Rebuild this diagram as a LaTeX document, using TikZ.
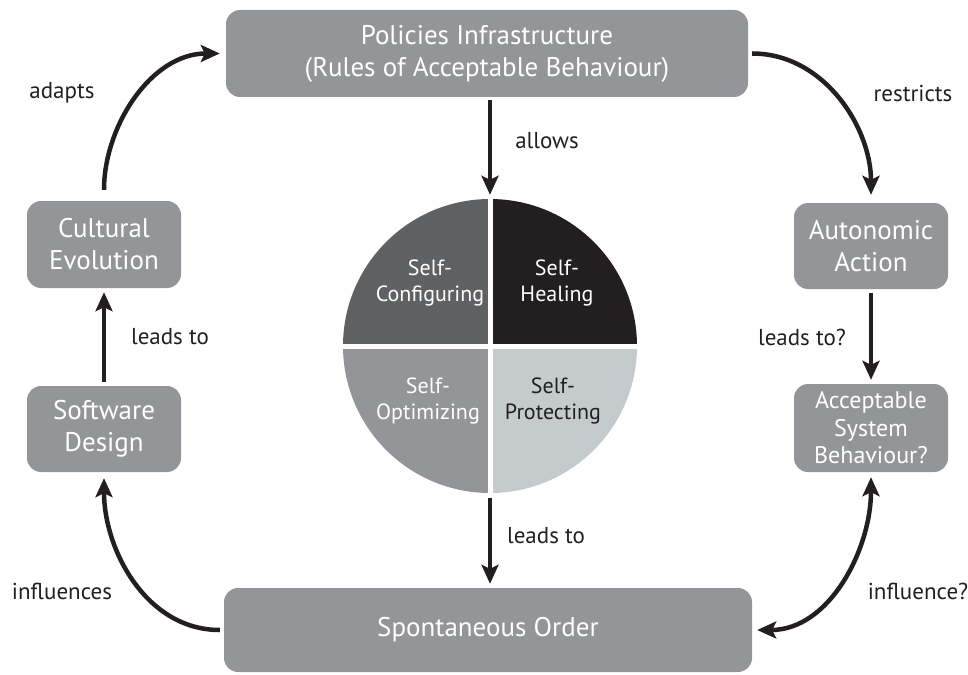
\documentclass[tikz,border=0pt]{standalone}
\usepackage{fontspec}
\setmainfont{PT Sans}
\usetikzlibrary{arrows.meta}
\definecolor{boxgray}{HTML}{939598}
\definecolor{qtl}{HTML}{606163}
\definecolor{qtr}{HTML}{231F20}
\definecolor{qbl}{HTML}{939598}
\definecolor{qbr}{HTML}{C5CBCC}
\definecolor{ink}{HTML}{231F20}
\tikzset{
  box/.style={rectangle, rounded corners=14pt, fill=boxgray, text=white, align=center,
    font=\fontsize{27}{32}\selectfont, inner sep=0pt},
  smallbox/.style={box, font=\fontsize{24}{27.5}\selectfont},
  lbl/.style={font=\fontsize{23}{27}\selectfont, text=ink, inner sep=0pt},
  qtxt/.style={font=\fontsize{22}{26}\selectfont, align=center, inner sep=0pt},
  arr/.style={draw=ink, line width=4.5pt, -{Stealth[length=19pt,width=17pt,inset=4pt]}},
  darr/.style={draw=ink, line width=4.5pt, {Stealth[length=19pt,width=17pt,inset=4pt]}-{Stealth[length=19pt,width=17pt,inset=4pt]}}
}
\begin{document}
\begin{tikzpicture}[x=1pt,y=-1pt]
\useasboundingbox (0,0) rectangle (968,674);
% boxes
\node[box, minimum width=522pt, minimum height=87pt] (pol) at (487,53.5) {Policies Infrastructure\\(Rules of Acceptable Behaviour)};
\node[box, minimum width=154pt, minimum height=87pt] (ce) at (104,244.5) {Cultural\\Evolution};
\node[box, minimum width=154pt, minimum height=86pt] (sw) at (104,429) {Software\\Design};
\node[box, minimum width=154pt, minimum height=86pt] (aa) at (871,246) {Autonomic\\Action};
\node[smallbox, minimum width=154pt, minimum height=88pt] (asb) at (871,428) {Acceptable\\System\\Behaviour?};
\node[box, minimum width=528pt, minimum height=84pt] (so) at (488,630) {Spontaneous Order};
% wheel
\node[circle, minimum size=294pt, inner sep=0pt] (wheel) at (490,346) {};
\begin{scope}
  \clip (490,346) circle (147pt);
  \fill[qtl] (490,346) rectangle (340,196);
  \fill[qtr] (490,346) rectangle (640,196);
  \fill[qbl] (490,346) rectangle (340,496);
  \fill[qbr] (490,346) rectangle (640,496);
  \draw[white, line width=5pt] (490,190) -- (490,500);
  \draw[white, line width=5pt] (335,346) -- (645,346);
\end{scope}
\node[qtxt, text=white] (q1) at (430,283) {Self-\\Configuring};
\node[qtxt, text=white] (q2) at (557,283) {Self-\\Healing};
\node[qtxt, text=white] (q3) at (428,401) {Self-\\Optimizing};
\node[qtxt, text=ink] (q4) at (553,401) {Self-\\Protecting};
% connectors
\draw[arr, shorten <=3pt, shorten >=4pt] (pol.south -| wheel.north) -- (wheel.north);
\draw[arr, shorten <=5pt, shorten >=4pt] (wheel.south) -- (so.north -| wheel.south);
\draw[arr, shorten <=4pt, shorten >=4pt] (sw.north) -- (ce.south);
\draw[arr, shorten <=4pt, shorten >=4pt] (aa.south) -- (asb.north);
\draw[arr, shorten <=11pt, shorten >=6pt] (ce.north) to[out=90, in=180] (pol.west);
\draw[arr, shorten <=4pt, shorten >=8pt] (pol.east) to[out=0, in=90] (aa.north);
\draw[arr, shorten <=4pt, shorten >=6pt] (so.west) to[out=180, in=-90] (sw.south);
\draw[darr, shorten <=5pt, shorten >=5pt] (so.east) to[out=0, in=-90] (asb.south);
% labels
\node[lbl] (l1) at (547,141) {allows};
\node[lbl] (l2) at (546,536) {leads to};
\node[lbl] (l3) at (170,337) {leads to};
\node[lbl] (l4) at (802,337) {leads to?};
\node[lbl] (l5) at (62,93) {adapts};
\node[lbl] (l6) at (913,93) {restricts};
\node[lbl] (l7) at (62,591) {influences};
\node[lbl] (l8) at (918,591) {influence?};
\end{tikzpicture}
\end{document}
